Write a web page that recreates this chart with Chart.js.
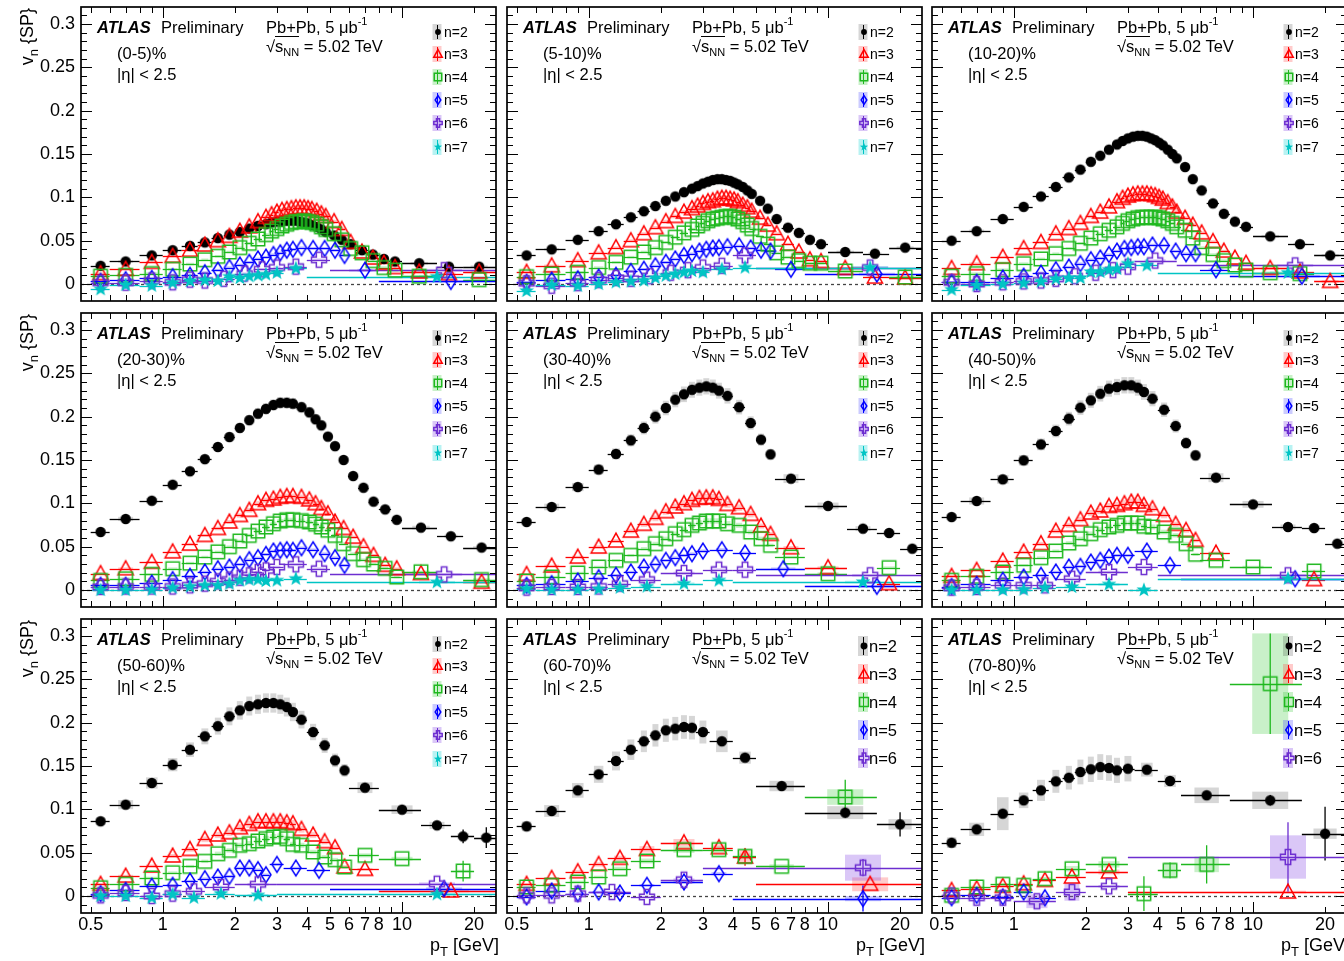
<!DOCTYPE html>
<html lang="en">
<head>
<meta charset="UTF-8" />
<title>ATLAS Preliminary vn{SP} vs pT</title>
<script src="https://cdn.jsdelivr.net/npm/chart.js"></script>
<style>
  html, body { margin: 0; padding: 0; overflow: hidden; background: #fff; }
  body { width: 1344px; height: 961px; position: relative; font-family: "Liberation Sans", Arial, Helvetica, sans-serif; color: #000; }
  canvas { position: absolute; }
  .panel { position: absolute; width: 418px; height: 294px; pointer-events: none; }
  .t { position: absolute; white-space: nowrap; line-height: 1; }
  .sup { font-size: 11px; position: relative; top: -8px; }
  .sub { font-size: 11px; position: relative; top: 4px; }
  .subx { font-size: 13px; position: relative; top: 5px; }
  .ov { border-top: 1.2px solid #000; }
  .ytitle { position: absolute; width: 100px; text-align: right; font-size: 18px; line-height: 1; white-space: nowrap; transform-origin: 0 0; transform: rotate(-90deg); }
</style>
</head>
<body>
<div id="page"></div>
<script>
// ---- pT binnings (centres and bin edges, GeV) ----
const PT_TOP = [0.55,0.7,0.9,1.1,1.3,1.5,1.7,1.9,2.1,2.3,2.5,2.7,2.85,3.0,3.15,3.3,3.45,3.6,3.75,3.9,4.05,4.2,4.4,4.6,4.8,5.2,5.6,6.1,6.8,7.55,8.4,9.35,11.8,15.7,21];
const E_TOP = [0.5,0.6,0.8,1.0,1.2,1.4,1.6,1.8,2.0,2.2,2.4,2.6,2.8,2.9,3.05,3.2,3.35,3.5,3.65,3.8,3.95,4.1,4.3,4.5,4.7,5.0,5.4,5.8,6.4,7.2,8.0,8.8,10,14,18,25];
const PT_MID = [0.55,0.7,0.9,1.1,1.3,1.5,1.7,1.9,2.1,2.3,2.5,2.7,2.9,3.1,3.3,3.5,3.8,4.1,4.35,4.6,4.9,5.25,5.7,6.25,6.9,7.6,8.5,9.5,12,16,21.5];
const E_MID = [0.5,0.6,0.8,1,1.2,1.4,1.6,1.8,2,2.2,2.4,2.6,2.8,3,3.2,3.4,3.6,3.95,4.25,4.5,4.75,5.05,5.45,5.95,6.55,7.25,8,9,10,14,18,25];
const PT_COARSE = [0.55,0.7,0.9,1.1,1.3,1.5,1.7,1.9,2.1,2.3,2.5,2.7,2.9,3.1,3.3,3.5,3.8,4.25,4.75,5.25,5.75,7,10,14,18,22.5];
const E_COARSE = [0.5,0.6,0.8,1.0,1.2,1.4,1.6,1.8,2.0,2.2,2.4,2.6,2.8,3.0,3.2,3.4,3.6,4.0,4.5,5.0,5.5,6.0,8.0,12,16,20,25];
const PT_PERIPH = [0.55,0.7,0.9,1.1,1.3,1.5,1.7,1.9,2.1,2.3,2.5,2.7,3.0,3.6,4.5,6.4,11.8,20];
const E_PERIPH = [0.5,0.6,0.8,1,1.2,1.4,1.6,1.8,2,2.2,2.4,2.6,2.8,3.2,4,5,8,16,25];
const X_A = [0.55,0.7,0.9,1.1,1.3,1.5,1.7,1.9,2.1,2.3,2.5,2.7,3.0,3.6,14];
const E_A = [0.5,0.6,0.8,1,1.2,1.4,1.6,1.8,2,2.2,2.4,2.6,2.8,3.2,4,25];
const X_B = [0.55,0.7,0.9,1.1,1.3,1.5,1.7,1.9,2.1,2.3,2.5,2.7,3.0,3.6,4.5,15];
const E_B = [0.5,0.6,0.8,1,1.2,1.4,1.6,1.8,2,2.2,2.4,2.6,2.8,3.2,4,5,25];
const X_B2 = [0.55,0.7,0.9,1.1,1.3,1.5,1.7,1.9,2.1,2.3,2.5,2.7,3.0,3.6,4.5,6.5,16];
const E_B2 = [0.5,0.6,0.8,1,1.2,1.4,1.6,1.8,2,2.2,2.4,2.6,2.8,3.2,4,5,8,25];
const X_C = [0.55,0.7,0.9,1.1,1.35,1.75,2.5,3.5,4.5,15];
const E_C = [0.5,0.6,0.8,1,1.2,1.5,2,3,4,5,25];
const X_D = [0.55,0.7,0.9,1.1,1.35,1.75,2.5,3.5,14];
const E_D = [0.5,0.6,0.8,1,1.2,1.5,2,3,4,25];
const X_E = [0.55,0.7,0.9,1.1,1.35,1.75,2.5,14];
const E_E = [0.5,0.6,0.8,1,1.2,1.5,2,3,25];
const X_F = [0.55,0.7,0.9,1.1,1.35,1.75,2.5,3.5,4.5,6.4,11.8];
const E_F = [0.5,0.6,0.8,1,1.2,1.5,2,3,4,5,8,16];
const X_G = [0.55,0.7,0.9,1.25,1.75,2.5,14];
const E_G = [0.5,0.6,0.8,1,1.5,2,3,25];
const X_H = [0.55,0.7,0.9,1.1,1.3,1.5,1.8,2.2,2.6,3.0,3.6,4.5,15];
const E_H = [0.5,0.6,0.8,1,1.2,1.4,1.6,2,2.4,2.8,3.2,4,5,25];
const X_H3 = [0.55,0.7,0.9,1.1,1.3,1.5,1.8,2.2,2.6,3.0,3.9,15];
const E_H3 = [0.5,0.6,0.8,1,1.2,1.4,1.6,2,2.4,2.8,3.2,4.8,25];
const X_I = [0.55,0.7,0.9,1.1,1.3,1.5,1.7,1.9,2.1,2.3,2.5,2.7,2.9,3.1,3.3,3.5,3.8,4.25,4.75,5.25,5.75,7,16];
const E_I = [0.5,0.6,0.8,1,1.2,1.4,1.6,1.8,2,2.2,2.4,2.6,2.8,3,3.2,3.4,3.6,4,4.5,5,5.5,6,8,25];

// ---- v_n values per centrality ----
// 0-5%
const V2_0 = [0.021,0.026,0.033,0.039,0.044,0.048,0.053,0.057,0.060,0.064,0.067,0.069,0.071,0.072,0.073,0.073,0.073,0.073,0.072,0.071,0.070,0.068,0.066,0.063,0.060,0.056,0.051,0.046,0.039,0.034,0.029,0.026,0.024,0.020,0.020];
const V3_0 = [0.012,0.017,0.025,0.032,0.039,0.045,0.050,0.055,0.061,0.066,0.072,0.077,0.080,0.083,0.085,0.086,0.087,0.088,0.088,0.088,0.087,0.086,0.084,0.081,0.078,0.072,0.063,0.048,0.037,0.030,0.024,0.019,0.014,0.012,0.014];
const V4_0 = [0.009,0.010,0.012,0.017,0.023,0.028,0.032,0.037,0.042,0.047,0.052,0.057,0.061,0.064,0.067,0.069,0.071,0.072,0.072,0.073,0.072,0.071,0.069,0.066,0.063,0.058,0.051,0.041,0.036,0.027,0.019,0.016,0.009,null,0.005];
const V5_0 = [0.003,0.005,0.0065,0.0085,0.010,0.013,0.016,0.019,0.022,0.025,0.029,0.031,0.034,0.036,0.039,0.040,0.042,0.041,0.041,0.039,0.033,0.016,0.003];
const V6_0 = [0.0015,0.0015,0.004,0.002,0.005,0.004,0.006,0.012,0.017,0.019,0.020,0.028,0.016];
const V7_0 = [-0.006,-0.001,-0.002,0.0015,0.0035,0.0045,0.0035,0.0085,0.007,0.009,0.010,0.011,0.013,0.018,0.0085];
// 5-10%
const V2_1 = [0.033,0.040,0.051,0.061,0.069,0.077,0.084,0.090,0.096,0.101,0.106,0.110,0.113,0.116,0.118,0.120,0.121,0.121,0.120,0.119,0.117,0.115,0.112,0.108,0.104,0.096,0.087,0.075,0.065,0.059,0.051,0.046,0.037,0.035,0.042];
const V3_1 = [0.0135,0.021,0.027,0.036,0.042,0.050,0.058,0.065,0.072,0.078,0.083,0.087,0.090,0.093,0.095,0.096,0.098,0.099,0.099,0.098,0.097,0.095,0.091,0.088,0.084,0.076,0.068,0.058,0.046,0.037,0.028,0.026,0.018,0.008,0.007];
const V4_1 = [0.0085,0.0115,0.0135,0.019,0.025,0.031,0.037,0.042,0.048,0.054,0.059,0.063,0.067,0.070,0.073,0.075,0.076,0.077,0.078,0.078,0.077,0.075,0.072,0.068,0.064,0.055,0.046,0.036,0.031,0.027,0.024,0.024,0.015,null,0.008];
const V5_1 = [0.002,0.0045,0.006,0.008,0.010,0.0145,0.017,0.021,0.025,0.029,0.033,0.035,0.038,0.040,0.0415,0.042,0.043,0.044,0.0415,0.039,0.038,0.017,0.0115];
const V6_1 = [0.001,-0.002,0.001,0.0045,0.007,0.006,0.009,0.013,0.016,0.019,0.021,0.033,0.019];
const V7_1 = [-0.008,-0.001,-0.002,0,0.002,0.003,0.004,0.007,0.0095,0.0115,0.0135,0.015,0.0135,0.017,0.019,0.019];
// 10-20%
const V2_2 = [0.050,0.061,0.075,0.089,0.101,0.112,0.123,0.132,0.141,0.148,0.155,0.161,0.165,0.168,0.170,0.171,0.171,0.170,0.168,0.166,0.163,0.160,0.155,0.150,0.145,0.135,0.121,0.108,0.093,0.081,0.072,0.066,0.055,0.046,0.033];
const V3_2 = [0.018,0.0235,0.031,0.041,0.048,0.058,0.064,0.070,0.078,0.083,0.089,0.095,0.099,0.1015,0.103,0.104,0.104,0.104,0.103,0.102,0.100,0.098,0.094,0.089,0.083,0.076,0.068,0.059,0.049,0.038,0.030,0.024,0.018,0.014,0.003];
const V4_2 = [0.009,0.012,0.0165,0.0235,0.029,0.035,0.041,0.047,0.053,0.058,0.062,0.066,0.070,0.073,0.075,0.0765,0.077,0.077,0.077,0.077,0.0765,0.075,0.073,0.070,0.066,0.062,0.053,0.042,0.034,0.027,0.022,0.016,0.013,0.012,null];
const V5_2 = [0.002,0.002,0.007,0.009,0.0125,0.0165,0.0195,0.0235,0.028,0.030,0.034,0.038,0.041,0.042,0.043,0.043,0.045,0.0445,0.038,0.035,0.035,0.0165,0.009];
const V6_2 = [0.002,0,0.002,0.003,0.004,0.006,0.009,0.013,0.016,0.020,0.027,0.0215];
const V7_2 = [-0.0065,-0.0015,0,0.001,0.003,0.006,0.007,0.007,0.014,0.014,0.0165,0.0175,0.0235,0.0215,0.013];
// 20-30%
const V2_3 = [0.067,0.082,0.103,0.1215,0.137,0.151,0.165,0.1765,0.187,0.196,0.2035,0.209,0.2135,0.216,0.216,0.215,0.211,0.205,0.197,0.190,0.177,0.166,0.150,0.1315,0.118,0.102,0.093,0.081,0.072,0.062,0.049];
const V3_3 = [0.019,0.0246,0.032,0.044,0.053,0.063,0.071,0.0785,0.086,0.092,0.0996,0.1035,0.105,0.107,0.108,0.108,0.107,0.104,0.0996,0.094,0.088,0.0785,0.071,0.061,0.050,0.040,0.0285,0.0246,0.019,null,0.009];
const V4_3 = [0.011,0.013,0.018,0.0246,0.031,0.038,0.044,0.050,0.0565,0.063,0.068,0.0727,0.0765,0.0796,0.081,0.081,0.080,0.0785,0.076,0.0727,0.069,0.063,0.0535,0.042,0.035,0.030,0.025,0.015,0.021,null,0.012];
const V5_3 = [0.0054,0.0054,0.008,0.012,0.0158,0.0208,0.0246,0.0265,0.0296,0.035,0.0373,0.041,0.045,0.0458,0.0465,0.0458,0.0488,0.0465,0.042,0.0373,0.0285,null,null];
const V6_3 = [0.0035,0.004,0.004,0.004,0.0054,0.0073,0.010,0.012,0.0142,0.017,0.0208,0.0227,0.0265,0.0296,0.0246,0.018];
const V7_3 = [0,0,0.0004,0.0027,0.004,0.0054,0.0054,0.0073,0.011,0.012,0.012,0.0104,0.011,0.013,0.009];
// 30-40%
const V2_4 = [0.0785,0.0958,0.1188,0.139,0.157,0.1727,0.187,0.200,0.210,0.2196,0.2258,0.231,0.2335,0.235,0.2335,0.230,0.224,0.211,0.1927,0.1735,0.1565,0.1285,0.097,0.0708,0.0658,0.0477];
const V3_4 = [0.018,0.0277,0.038,0.0496,0.0565,0.068,0.0758,0.0827,0.0904,0.0958,0.0996,0.1035,0.1058,0.1065,0.1065,0.1046,0.0988,0.095,0.0873,0.0738,0.0642,0.0488,0.0258,null,0.0073,null];
const V4_4 = [0.0104,0.015,0.0196,0.0265,0.0342,0.040,0.0477,0.0535,0.0592,0.065,0.0696,0.0746,0.0773,0.0796,0.0796,0.0796,0.0765,0.0746,0.0669,0.0592,0.0515,0.038,0.0188,null,0.0258,null];
const V5_4 = [0.0054,0.0073,0.0104,0.0142,0.0169,0.0208,0.0265,0.0296,0.0342,0.0373,0.040,0.0419,0.045,0.0465,0.0427,0.0246,0.0042];
const V6_4 = [0.0027,0.0035,0.0035,0.004,0.0073,0.012,0.0196,0.0235,0.0235,0.017];
const V7_4 = [0.0015,0.0004,0.0004,0.001,0.0027,0.004,0.0073,0.011,0.0092];
// 40-50%
const V2_5 = [0.0842,0.1027,0.1277,0.1496,0.168,0.1835,0.1977,0.2104,0.2188,0.2265,0.2323,0.2342,0.2362,0.2362,0.2335,0.2285,0.2208,0.208,0.1892,0.1696,0.1554,0.1296,0.0988,0.0727,0.0715,0.0535];
const V3_5 = [0.0158,0.0227,0.0335,0.0438,0.0535,0.068,0.0746,0.0812,0.0888,0.0912,0.0965,0.0977,0.0996,0.1015,0.1015,0.0977,0.0938,0.0862,0.0758,0.0688,0.0573,0.0427,null,null,0.012,null];
const V4_5 = [0.0112,0.0158,0.0208,0.0285,0.0373,0.045,0.0542,0.0592,0.065,0.0696,0.0727,0.0746,0.0773,0.0773,0.0773,0.0735,0.0727,0.0669,0.0631,0.0535,0.0412,0.0342,0.0265,null,0.0219,null];
const V5_5 = [0.004,0.0065,0.0112,0.015,0.0169,0.0208,0.0265,0.0273,0.0323,0.0342,0.038,0.040,0.040,0.045,0.0285,0.013];
const V6_5 = [0.0027,0.0035,0.0054,0.0054,0.0054,0.013,0.0208,0.0265,0.017];
const V7_5 = [0,0,0,0.0004,0.0027,0.0035,0.0065,0,0.013];
// 50-60%
const V2_6 = [0.0862,0.1054,0.1304,0.1515,0.1688,0.1842,0.196,0.2073,0.2142,0.2192,0.2212,0.2227,0.2227,0.2212,0.218,0.2123,0.2035,0.1892,0.1738,0.1565,0.145,0.125,0.0996,0.0815,0.0688,0.0673];
const V3_6 = [0.0135,0.023,0.0346,0.0462,0.0538,0.0654,0.0704,0.073,0.0788,0.0827,0.0858,0.0858,0.0858,0.0858,0.0846,0.0835,0.0769,0.0704,0.0627,0.0558,0.0335,0.0308,0.0058];
const V4_6 = [0.0096,0.0135,0.0208,0.0269,0.0342,0.04,0.0488,0.0527,0.0585,0.0604,0.0635,0.0662,0.0681,0.0688,0.0662,0.0596,0.0585,0.0508,0.045,0.0419,0.0335,0.0469,0.0431,null,0.0288,null];
const V5_6 = [0.0027,0.0065,0.0112,0.0123,0.0173,0.02,0.0219,0.0227,0.0323,0.0323,0.0304,0.0246,0.0365,0.0323,0.0296,0.0085];
const V6_6 = [0.0008,0.0035,0,0.0027,0.0054,0.0104,0.0135,0.0142];
const V7_6 = [0,0,-0.002,0.002,-0.002,0.0027,0.0008,0.002];
// 60-70%
const V2_7 = [0.0804,0.0981,0.1219,0.1404,0.1558,0.1688,0.1785,0.1854,0.1912,0.1931,0.195,0.1942,0.1892,0.1785,0.1596,0.1269,0.0962,0.0827];
const V3_7 = [0.0135,0.0204,0.0281,0.0365,0.0435,0.0538,0.0615,0.0558,0.045,0.0135];
const V4_7 = [0.0104,0.0123,0.0162,0.0219,0.0315,0.0404,0.0535,0.0535,0.0458,0.0342,0.1142];
const V5_7 = [-0.001,0.0058,0.0027,0.0046,0.0035,0.0123,0.0162,0.0258,-0.003];
const V6_7 = [0.0008,0.0008,0.0027,0.0046,-0.001,0.0188,0.0327];
// 70-80%
const V2_8 = [0.0615,0.0769,0.095,0.1104,0.1219,0.1323,0.1365,0.1431,0.1462,0.1488,0.1477,0.145,0.1469,0.1458,0.1327,0.1162,0.1104,0.0719];
const V3_8 = [0.0065,0.0085,0.0112,0.0142,0.018,0.0219,0.0277,0.0046];
const V4_8 = [0.0008,0.0104,0.0135,0.0123,0.02,0.0315,0.0365,0.0027,0.0296,0.0365,0.245];
const V5_8 = [-0.002,0.0008,-0.001,0.0046,-0.002,null,null,null];
const V6_8 = [0.0008,-0.002,-0.002,-0.006,0.0046,0.0112,0.045];

// visible uncertainties: [panel, n, pT, stat error, syst error (null = default)]
const UNC = [
  [6,2,18,0.008,null],[6,2,22.5,0.012,null],[6,4,18,0.012,null],
  [7,2,20,0.014,0.006],[7,2,11.8,0.006,0.0075],[7,2,6.4,0,0.006],[7,2,4.5,0,0.007],[7,4,11.8,0.02,0.009],
  [7,3,4.5,0.01,0.008],[7,3,15,0,0.008],[7,5,14,0.015,0.003],[7,6,14,0.01,0.015],
  [8,2,20,0.031,0.006],[8,2,11.8,0.006,0.01],[8,2,0.9,0,0.019],[8,2,1.1,0,0.009],[8,2,3.6,0,0.008],[8,2,4.5,0,0.007],
  [8,2,6.4,0,0.009],[8,4,11.8,0.058,0.058],[8,4,3.5,0.02,null],[8,4,4.5,0.009,0.009],[8,4,6.4,0.022,0.009],
  [8,6,14,0.04,0.025],[8,6,1.25,0,0.008],[8,6,1.75,0,0.01]
];
const CENTRALITY = ['(0-5)%','(5-10)%','(10-20)%','(20-30)%','(30-40)%','(40-50)%','(50-60)%','(60-70)%','(70-80)%'];
const SYS_REL = [0.03,0.03,0.03,0.03,0.04,0.04,0.05,0.07,0.10];

const X_TICKS = [0.5,0.6,0.7,0.8,0.9,1,2,3,4,5,6,7,8,9,10,20];
const X_LABELS = [0.5,1,2,3,4,5,6,7,8,10,20];
const Y_TICKS = [0,0.05,0.1,0.15,0.2,0.25,0.3];

// ---- layout / style ----
const FONT = '"Liberation Sans", Arial, Helvetica, sans-serif';
const COL_LEFT = [81, 507, 932];
const ROW_TOP = [7, 313, 619];
const FRAME_W = 418, FRAME_H = 294;
const X_MIN = 0.4555, X_MAX = 24.7;
const Y_MIN = -0.0196, Y_MAX = 0.3196;

const STYLE = {
  2: { color: '#000000', sys: 'rgba(0,0,0,0.16)', shape: 'circle' },
  3: { color: '#ff0000', sys: 'rgba(255,70,70,0.28)', shape: 'triangle' },
  4: { color: '#1fb81f', sys: 'rgba(60,200,60,0.28)', shape: 'square' },
  5: { color: '#0000ff', sys: 'rgba(70,70,255,0.28)', shape: 'diamond' },
  6: { color: '#6d2ed0', sys: 'rgba(140,80,230,0.32)', shape: 'cross' },
  7: { color: '#00c4c4', sys: 'rgba(0,210,210,0.28)', shape: 'star' }
};

const PANELS = [
  [[2,PT_TOP,E_TOP,V2_0],[3,PT_TOP,E_TOP,V3_0],[4,PT_TOP,E_TOP,V4_0],[5,X_I,E_I,V5_0],[6,X_H,E_H,V6_0],[7,X_A,E_A,V7_0]],
  [[2,PT_TOP,E_TOP,V2_1],[3,PT_TOP,E_TOP,V3_1],[4,PT_TOP,E_TOP,V4_1],[5,X_I,E_I,V5_1],[6,X_H,E_H,V6_1],[7,X_B,E_B,V7_1]],
  [[2,PT_TOP,E_TOP,V2_2],[3,PT_TOP,E_TOP,V3_2],[4,PT_TOP,E_TOP,V4_2],[5,X_I,E_I,V5_2],[6,X_H3,E_H3,V6_2],[7,X_A,E_A,V7_2]],
  [[2,PT_MID,E_MID,V2_3],[3,PT_MID,E_MID,V3_3],[4,PT_MID,E_MID,V4_3],[5,X_I,E_I,V5_3],[6,X_B,E_B,V6_3],[7,X_A,E_A,V7_3]],
  [[2,PT_COARSE,E_COARSE,V2_4],[3,PT_COARSE,E_COARSE,V3_4],[4,PT_COARSE,E_COARSE,V4_4],[5,X_B2,E_B2,V5_4],[6,X_C,E_C,V6_4],[7,X_D,E_D,V7_4]],
  [[2,PT_COARSE,E_COARSE,V2_5],[3,PT_COARSE,E_COARSE,V3_5],[4,PT_COARSE,E_COARSE,V4_5],[5,X_B,E_B,V5_5],[6,X_D,E_D,V6_5],[7,X_D,E_D,V7_5]],
  [[2,PT_COARSE,E_COARSE,V2_6],[3,X_I,E_I,V3_6],[4,PT_COARSE,E_COARSE,V4_6],[5,X_B,E_B,V5_6],[6,X_E,E_E,V6_6],[7,X_E,E_E,V7_6]],
  [[2,PT_PERIPH,E_PERIPH,V2_7],[3,X_C,E_C,V3_7],[4,X_F,E_F,V4_7],[5,X_D,E_D,V5_7],[6,X_G,E_G,V6_7]],
  [[2,PT_PERIPH,E_PERIPH,V2_8],[3,X_E,E_E,V3_8],[4,X_F,E_F,V4_8],[5,X_E,E_E,V5_8],[6,X_G,E_G,V6_8]]
];

// marker images drawn like ROOT markers
function makeMarker(n, s) {
  const st = STYLE[n];
  const size = Math.ceil(19 * s) + 3;
  const c = document.createElement('canvas');
  c.width = c.height = size;
  const g = c.getContext('2d');
  const m = size / 2;
  g.strokeStyle = st.color; g.fillStyle = st.color; g.lineWidth = 1.5;
  g.beginPath();
  if (st.shape === 'circle') {
    g.arc(m, m, 5.2 * s, 0, Math.PI * 2); g.fill();
  } else if (st.shape === 'triangle') {
    g.moveTo(m, m - 7.9 * s); g.lineTo(m + 7.6 * s, m + 6 * s); g.lineTo(m - 7.6 * s, m + 6 * s); g.closePath(); g.stroke();
  } else if (st.shape === 'square') {
    g.rect(m - 6.7 * s, m - 6.7 * s, 13.4 * s, 13.4 * s); g.stroke();
  } else if (st.shape === 'diamond') {
    g.moveTo(m, m - 7.9 * s); g.lineTo(m + 5 * s, m); g.lineTo(m, m + 7.9 * s); g.lineTo(m - 5 * s, m); g.closePath(); g.stroke();
  } else if (st.shape === 'cross') {
    const a = 7.5 * s, b = 2.7 * s;
    const p = [[-b,-a],[b,-a],[b,-b],[a,-b],[a,b],[b,b],[b,a],[-b,a],[-b,b],[-a,b],[-a,-b],[-b,-b]];
    p.forEach((q, i) => i ? g.lineTo(m + q[0], m + q[1]) : g.moveTo(m + q[0], m + q[1]));
    g.closePath(); g.stroke();
  } else {
    for (let i = 0; i < 10; i++) {
      const r = i % 2 ? 3.2 * s : 7.8 * s;
      const ang = -Math.PI / 2 + i * Math.PI / 5;
      const px = m + r * Math.cos(ang), py = m + r * Math.sin(ang);
      i ? g.lineTo(px, py) : g.moveTo(px, py);
    }
    g.closePath(); g.fill();
  }
  return c;
}
const MARK = {}, MARK_S = {}, MARK_M = {};
[2,3,4,5,6,7].forEach(n => { MARK[n] = makeMarker(n, 1); MARK_S[n] = makeMarker(n, 0.56); MARK_M[n] = makeMarker(n, 0.66); });

function pts(panel, n, xs, edges, vals) {
  const out = [];
  vals.forEach((v, i) => {
    if (v === null) return;
    const u = UNC.find(r => r[0] === panel && r[1] === n && Math.abs(r[2] - xs[i]) / xs[i] < 0.03);
    out.push({ x: xs[i], y: v, lo: edges[i], hi: edges[i + 1], err: u ? u[3] : 0, sys: u ? u[4] : null });
  });
  return out;
}

const rootFrame = {
  id: 'rootFrame',
  beforeDatasetsDraw(chart, args, opt) {
    const { ctx, chartArea: a, scales: { x, y } } = chart;
    ctx.save();
    ctx.beginPath(); ctx.rect(a.left, a.top, a.right - a.left, a.bottom - a.top); ctx.clip();
    const y0 = Math.round(y.getPixelForValue(0)) + 0.5;
    ctx.setLineDash([3, 3]); ctx.strokeStyle = '#444'; ctx.lineWidth = 1.3;
    ctx.beginPath(); ctx.moveTo(a.left, y0); ctx.lineTo(a.right, y0); ctx.stroke();
    ctx.setLineDash([]);
    const dsets = chart.data.datasets.slice().sort((p, q) => p.n - q.n);
    dsets.forEach(ds => {
      const st = STYLE[ds.n];
      ds.data.forEach(p => {
        const px = x.getPixelForValue(p.x), py = y.getPixelForValue(p.y);
        const pl = x.getPixelForValue(p.lo), ph = x.getPixelForValue(p.hi);
        const hw = Math.max(3, Math.min((ph - pl) / 4, 18));
        const sy = p.sys !== null ? p.sys : Math.max(opt.sys * Math.abs(p.y), 0.0015);
        const dy = y.getPixelForValue(0) - y.getPixelForValue(sy);
        ctx.fillStyle = st.sys;
        ctx.fillRect(px - hw, py - dy, 2 * hw, 2 * dy);
      });
    });
    dsets.forEach(ds => {
      ctx.strokeStyle = STYLE[ds.n].color; ctx.lineWidth = 1.3;
      ds.data.forEach(p => {
        const px = x.getPixelForValue(p.x), py = Math.round(y.getPixelForValue(p.y)) + 0.5;
        ctx.beginPath();
        ctx.moveTo(x.getPixelForValue(p.lo), py); ctx.lineTo(x.getPixelForValue(p.hi), py);
        if (p.err) { ctx.moveTo(px, y.getPixelForValue(p.y - p.err)); ctx.lineTo(px, y.getPixelForValue(p.y + p.err)); }
        ctx.stroke();
      });
    });
    ctx.restore();
  },
  afterDraw(chart, args, opt) {
    const { ctx, chartArea: a, scales: { x, y } } = chart;
    ctx.save();
    ctx.strokeStyle = '#000'; ctx.lineWidth = 1;
    ctx.beginPath();
    for (let i = -1; i <= 31; i++) {
      const py = Math.round(y.getPixelForValue(i / 100)) + 0.5;
      const len = i % 5 === 0 ? 11 : 6;
      ctx.moveTo(a.left, py); ctx.lineTo(a.left + len, py);
      ctx.moveTo(a.right, py); ctx.lineTo(a.right - len, py);
    }
    X_TICKS.forEach(v => {
      const px = Math.round(x.getPixelForValue(v)) + 0.5;
      const len = (v === 1 || v === 10) ? 11 : 6;
      ctx.moveTo(px, a.bottom); ctx.lineTo(px, a.bottom - len);
      ctx.moveTo(px, a.top); ctx.lineTo(px, a.top + len);
    });
    ctx.stroke();
    ctx.lineWidth = 1.7;
    ctx.strokeRect(a.left, a.top, a.right - a.left, a.bottom - a.top);
    // legend markers
    const lx = a.left + 356;
    opt.rows.forEach((ry, i) => {
      const n = i + 2, cy = a.top + ry;
      const big = opt.rows.length === 5;
      const bh = big ? 20 : 16, bw = big ? 10 : 9;
      ctx.fillStyle = STYLE[n].sys;
      ctx.fillRect(lx - bw / 2, cy - bh / 2, bw, bh);
      ctx.strokeStyle = STYLE[n].color; ctx.lineWidth = 1;
      ctx.beginPath(); ctx.moveTo(lx + 0.5, cy - bh / 2 + 1); ctx.lineTo(lx + 0.5, cy + bh / 2 - 1); ctx.stroke();
      const img = big ? MARK_M[n] : MARK_S[n];
      ctx.drawImage(img, Math.round(lx - img.width / 2 + 0.5), Math.round(cy - img.height / 2));
    });
    ctx.restore();
  }
};

const page = document.getElementById('page');
function addText(parent, html, x, base, size, extra) {
  const d = document.createElement('div');
  d.className = 't';
  d.innerHTML = html;
  d.style.fontSize = size + 'px';
  d.style.top = (base - 0.8465 * size) + 'px';
  if (extra && extra.right !== undefined) d.style.right = extra.right + 'px';
  else d.style.left = x + 'px';
  parent.appendChild(d);
}

PANELS.forEach((series, i) => {
  const col = i % 3, row = Math.floor(i / 3);
  const L = col === 0 ? 81 : 20, R = 4, T = 22, B = row === 2 ? 40 : 22;
  const cv = document.createElement('canvas');
  cv.width = L + FRAME_W + R; cv.height = T + FRAME_H + B;
  cv.style.left = (COL_LEFT[col] - L) + 'px';
  cv.style.top = (ROW_TOP[row] - T) + 'px';
  cv.style.width = cv.width + 'px'; cv.style.height = cv.height + 'px';
  page.appendChild(cv);

  const five = series.length === 5;
  const datasets = series.map(([n, xs, edges, vals]) => ({
    n: n,
    data: pts(i, n, xs, edges, vals),
    pointStyle: MARK[n],
    pointRadius: 6,
    pointHoverRadius: 6,
    showLine: false,
    order: 10 - n,
    clip: 0
  }));

  new Chart(cv, {
    type: 'scatter',
    data: { datasets },
    options: {
      responsive: false,
      animation: false,
      devicePixelRatio: 1,
      events: [],
      layout: { padding: { left: 0, right: R, top: T, bottom: 0 } },
      plugins: {
        legend: { display: false },
        tooltip: { enabled: false },
        rootFrame: { sys: SYS_REL[i], rows: five ? [27,55,83,111,139] : [25,47,70,93,116,140] }
      },
      scales: {
        x: {
          type: 'logarithmic', min: X_MIN, max: X_MAX,
          grid: { display: false, drawTicks: false }, border: { display: false },
          afterBuildTicks: s => { s.ticks = X_TICKS.map(v => ({ value: v })); },
          afterFit: s => { s.height = B; },
          ticks: {
            display: row === 2, autoSkip: false, maxRotation: 0, minRotation: 0, padding: 1,
            color: '#000', font: { family: FONT, size: 18 },
            callback: v => X_LABELS.includes(v) ? String(v) : ''
          }
        },
        y: {
          min: Y_MIN, max: Y_MAX,
          grid: { display: false, drawTicks: false }, border: { display: false },
          afterBuildTicks: s => { s.ticks = Y_TICKS.map(v => ({ value: v })); },
          afterFit: s => { s.width = L; },
          ticks: {
            display: col === 0, padding: 6, color: '#000', font: { family: FONT, size: 18 },
            callback: v => v === 0 ? '0' : String(v)
          }
        }
      }
    },
    plugins: [rootFrame]
  });

  // annotations
  const box = document.createElement('div');
  box.className = 'panel';
  box.style.left = COL_LEFT[col] + 'px';
  box.style.top = ROW_TOP[row] + 'px';
  page.appendChild(box);
  addText(box, '<b><i>ATLAS</i></b>', 16, 26, 16.5);
  addText(box, 'Preliminary', 80, 26, 16.5);
  addText(box, 'Pb+Pb, 5 &mu;b<span class="sup">-1</span>', 185, 26, 16.5);
  addText(box, '&radic;<span class="ov">s<span class="sub">NN</span></span> = 5.02 TeV', 185, 45, 16.5);
  addText(box, CENTRALITY[i], 36, 52, 16.5);
  addText(box, '|&eta;| &lt; 2.5', 36, 73, 16.5);
  const rows = five ? [27,55,83,111,139] : [25,47,70,93,116,140];
  rows.forEach((ry, k) => {
    addText(box, 'n=' + (k + 2), five ? 362 : 363, ry + (five ? 6 : 5), five ? 16.5 : 14);
  });
  if (row === 2) addText(box, 'p<span class="subx">T</span> [GeV]', 0, 332, 18, { right: 0 });
  if (col === 0) {
    const yt = document.createElement('div');
    yt.className = 'ytitle';
    yt.innerHTML = 'v<span class="subx">n</span> {SP}';
    yt.style.left = '18px';
    yt.style.top = (ROW_TOP[row] + 101) + 'px';
    page.appendChild(yt);
  }
});
</script>
</body>
</html>
